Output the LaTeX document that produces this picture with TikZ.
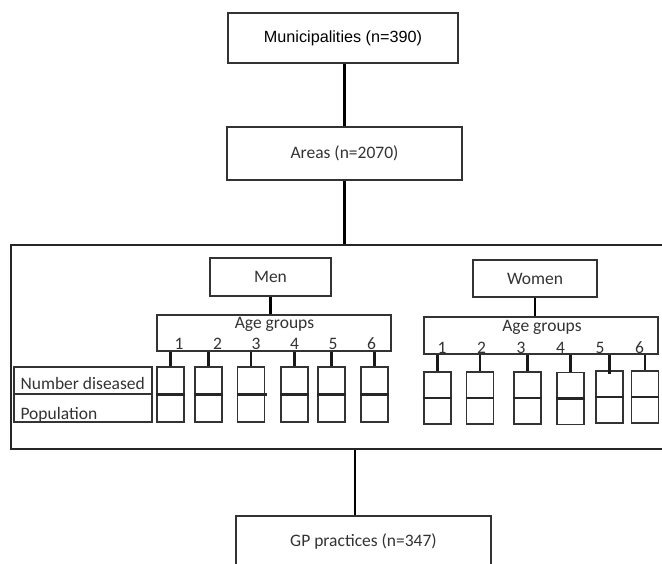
\documentclass[tikz,border=0pt]{standalone}
\usepackage{fontspec}
\setmainfont{Carlito}
\newfontfamily\arialfont{Liberation Sans}
\usetikzlibrary{calc,positioning}

\begin{document}
\begin{tikzpicture}[x=1pt,y=-1pt,
    every node/.style={font=\fontsize{17.5}{20}\selectfont},
    box/.style={draw=black!80, line width=1.3pt, inner sep=0pt, text=black!80},
    sbox/.style={draw=black!80, line width=1.3pt, minimum width=27pt, inner sep=0pt},
    lbox/.style={draw=black!80, line width=1.3pt, minimum width=138pt, inner sep=0pt},
    txt/.style={text=black!80, inner sep=0pt},
    link/.style={line width=2.4pt, black},
    tick/.style={line width=2.4pt, black!90},
    mid/.style={line width=2.2pt, black!85}]
    \clip (0,0) rectangle (662,564);
    \node[box, minimum width=230pt, minimum height=50pt, text=black,
      font=\arialfont\fontsize{16.2}{19}\selectfont] (muni) at (343,38) {Municipalities (n=390)};
    \node[box, minimum width=235pt, minimum height=53pt] (areas) at (344.5,153.5) {Areas (n=2070)};
    \node[box, draw=black!85, line width=2.2pt, minimum width=661pt, minimum height=204pt] (frame) at (341.5,347) {};
    \node[box, minimum width=255pt, minimum height=52pt] (gp) at (363.5,542) {GP practices (n=347)};
    \coordinate (gptop) at ($(gp.north) + (-8.5,0)$);
    \draw[link] (areas.north |- muni.south) -- (areas.north);
    \draw[link] (areas.south) -- (areas.south |- frame.north);
    \draw[link] (gptop |- frame.south) -- (gptop);

    \node[box, minimum width=121pt, minimum height=38pt] (men) at (270.5,277) {Men};
    \node[box, minimum width=124pt, minimum height=37pt] (women) at (535,278.5) {Women};
    \node[box, minimum width=234pt, minimum height=36pt] (agem) at (274,333) {};
    \node[box, minimum width=234pt, minimum height=37pt] (agew) at (541,335.5) {};
    \draw[link] (men.south) -- (men.south |- agem.north);
    \draw[link] (women.south) -- (women.south |- agew.north);
    \node[txt, anchor=base] (agemlbl) at (274.5,329) {Age groups};
    \node[txt, anchor=base] (agewlbl) at (542,331) {Age groups};

    \node[txt, anchor=base] (mn1) at (179,349) {1};
    \node[txt, anchor=base] (mn2) at (217.5,349) {2};
    \node[txt, anchor=base] (mn3) at (256,349) {3};
    \node[txt, anchor=base] (mn4) at (294.5,349) {4};
    \node[txt, anchor=base] (mn5) at (333,349) {5};
    \node[txt, anchor=base] (mn6) at (371.5,349) {6};
    \node[txt, anchor=base] (wn1) at (442,353) {1};
    \node[txt, anchor=base] (wn2) at (481.5,353) {2};
    \node[txt, anchor=base] (wn3) at (521,353) {3};
    \node[txt, anchor=base] (wn4) at (560.5,353) {4};
    \node[txt, anchor=base] (wn5) at (600,353) {5};
    \node[txt, anchor=base] (wn6) at (639.5,353) {6};

    \node[lbox, minimum height=27pt] (nd) at (83,380.5) {};
    \node[lbox, minimum height=28pt] (pop) at (83,408) {};
    \node[txt, anchor=base west] (ndlbl) at ($(nd.south west) + (7,-5)$) {Number diseased};
    \node[txt, anchor=base west] (poplbl) at ($(pop.south west) + (7,-3)$) {Population};

    \node[sbox, minimum height=55pt] (m1) at (170.5,394.5) {};
    \node[sbox, minimum height=55pt] (m2) at (208.5,394.5) {};
    \node[sbox, minimum height=55pt] (m3) at (251,394.5) {};
    \node[sbox, minimum height=55pt] (m4) at (294.5,394.5) {};
    \node[sbox, minimum height=55pt] (m5) at (331.5,394.5) {};
    \node[sbox, minimum height=55pt] (m6) at (374.5,394.5) {};
    \node[sbox, minimum height=52pt] (w1) at (437.5,398) {};
    \node[sbox, minimum height=52pt] (w2) at (480,398) {};
    \node[sbox, minimum height=52pt] (w3) at (527.5,398) {};
    \node[sbox, minimum height=52pt] (w4) at (570.5,398.5) {};
    \node[sbox, minimum height=52pt] (w5) at (609.5,397) {};
    \node[sbox, minimum height=52pt] (w6) at (645,397) {};

    \draw[tick] (agem.south -| m1.north) -- (m1.north);
    \draw[tick] (agem.south -| m2.north) -- (m2.north);
    \draw[tick] (agem.south -| m3.north) -- (m3.north);
    \draw[tick] (agem.south -| m4.north) -- (m4.north);
    \draw[tick] (agem.south -| m5.north) -- (m5.north);
    \draw[tick] (agem.south -| m6.north) -- (m6.north);
    \draw[tick] (agew.south -| w1.north) -- (w1.north);
    \draw[tick] (agew.south -| w2.north) -- (w2.north);
    \draw[tick] (agew.south -| w3.north) -- (w3.north);
    \draw[tick] (agew.south -| w4.north) -- (w4.north);
    \draw[tick] (agew.south -| w5.north) -- ($(w5.north) + (0,4)$);
    \draw[tick] (agew.south -| w6.north) -- (w6.north);

    \draw[mid] (m1.west) -- (m1.east);
    \draw[mid] (m2.west) -- (m2.east);
    \draw[mid] (m3.west) -- ($(m3.east) + (2,0)$);
    \draw[mid] (m4.west) -- (m4.east);
    \draw[mid] (m5.west) -- (m5.east);
    \draw[mid] (m6.west) -- (m6.east);
    \draw[mid] (w1.west) -- (w1.east);
    \draw[mid] (w2.west) -- (w2.east);
    \draw[mid] (w3.west) -- (w3.east);
    \draw[mid] (w4.west) -- (w4.east);
    \draw[mid] (w5.west) -- (w5.east);
    \draw[mid] (w6.west) -- (w6.east);
  \end{tikzpicture}
\end{document}
